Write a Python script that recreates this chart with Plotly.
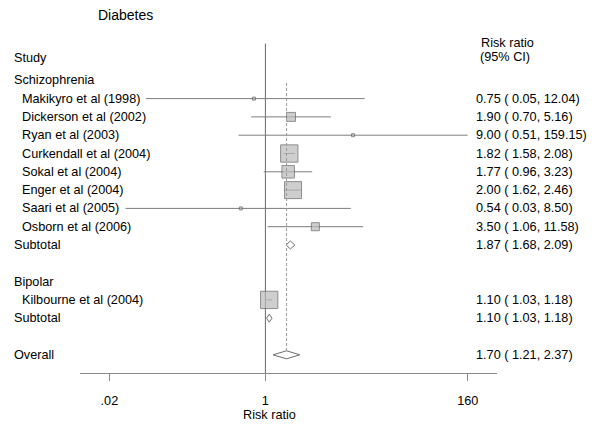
import plotly.graph_objects as go

# ---------------- data ----------------
title = "Diabetes"
studies = ["Makikyro et al (1998)", "Dickerson et al (2002)", "Ryan et al (2003)",
           "Curkendall et al (2004)", "Sokal et al (2004)", "Enger et al (2004)",
           "Saari et al (2005)", "Osborn et al (2006)", "Kilbourne et al (2004)"]
groups = ["Schizophrenia"] * 8 + ["Bipolar"]
rr = [0.75, 1.90, 9.00, 1.82, 1.77, 2.00, 0.54, 3.50, 1.10]
lo = [0.05, 0.70, 0.51, 1.58, 0.96, 1.62, 0.03, 1.06, 1.03]
hi = [12.04, 5.16, 159.15, 2.08, 3.23, 2.46, 8.50, 11.58, 1.18]
weights = [1.1, 7.0, 1.1, 23.5, 12.8, 22.7, 1.1, 5.7, 23.5]   # estimated % weight (box area)

group_names = ["Schizophrenia", "Bipolar"]
sub_rr = [1.87, 1.10]
sub_lo = [1.68, 1.03]
sub_hi = [2.09, 1.18]

overall_rr, overall_lo, overall_hi = 1.70, 1.21, 2.37

tick_vals = [0.02, 1, 160]
tick_text = [".02", "1", "160"]
x_label = "Risk ratio"

# ---------------- layout helpers ----------------
FONT = "Liberation Sans, Arial, Helvetica, sans-serif"
W, H = 600, 428
ML, MR, MT, MB = 80, 103, 30, 55
ROW0_PX, ROW_H = 62.0, 18.3
plot_w = W - ML - MR


def px_to_paper(px):
    return (px - ML) / plot_w


# assign rows
rows_study = []
row_labels = []  # (row, text, indent)
sub_rows = []
r = 1
for g in group_names:
    row_labels.append((r, g, False))
    r += 1
    for i, s in enumerate(studies):
        if groups[i] == g:
            rows_study.append((i, r))
            row_labels.append((r, s, True))
            r += 1
    row_labels.append((r, "Subtotal", False))
    sub_rows.append(r)
    r += 2
overall_row = r
row_labels.append((overall_row, "Overall", False))
study_row = {i: rw for i, rw in rows_study}

y_top = (MT - ROW0_PX) / ROW_H
y_bot = (H - MB - ROW0_PX) / ROW_H

fig = go.Figure()

# CI lines
xs, ys = [], []
for i in range(len(studies)):
    xs += [lo[i], hi[i], None]
    ys += [study_row[i], study_row[i], None]
fig.add_trace(go.Scatter(x=xs, y=ys, mode="lines",
                         line=dict(color="#7d7d7d", width=1),
                         hoverinfo="skip", showlegend=False))

# boxes
max_side = 18.3
sizes = [max_side * (w / max(weights)) ** 0.5 - 1 for w in weights]
fig.add_trace(go.Scatter(x=rr, y=[study_row[i] for i in range(len(studies))],
                         mode="markers",
                         marker=dict(symbol="square", size=sizes, color="#bababa",
                                     line=dict(color="#5e5e5e", width=1)),
                         hoverinfo="skip", showlegend=False))

# diamonds
half_h = 4.0 / ROW_H


def diamond(est, l, h, row):
    fig.add_trace(go.Scatter(x=[l, est, h, est, l], y=[row, row - half_h, row, row + half_h, row],
                             mode="lines", fill="toself", fillcolor="white",
                             line=dict(color="#6e6e6e", width=1),
                             hoverinfo="skip", showlegend=False))


for k in range(len(group_names)):
    diamond(sub_rr[k], sub_lo[k], sub_hi[k], sub_rows[k])
diamond(overall_rr, overall_lo, overall_hi, overall_row)

shapes = [
    dict(type="line", xref="x", yref="y", x0=1, x1=1, y0=(43.5 - ROW0_PX) / ROW_H, y1=y_bot,
         line=dict(color="#6a6a6a", width=1), layer="below"),
    dict(type="line", xref="x", yref="y", x0=overall_rr, x1=overall_rr,
         y0=(83 - ROW0_PX) / ROW_H, y1=overall_row - half_h,
         line=dict(color="#9a9a9a", width=1, dash="3px,2px"), layer="above"),
]

ann = []
fs = 12.7


def text(px, row, t, size=fs, yshift=0, xanchor="left"):
    ann.append(dict(x=px_to_paper(px), xref="paper", y=row, yref="y", text=t,
                    showarrow=False, xanchor=xanchor, yanchor="middle", yshift=yshift,
                    font=dict(family=FONT, size=size, color="#000")))


# title
ann.append(dict(x=px_to_paper(96), xref="paper", y=1 - (15 - MT) / (H - MT - MB),
                yref="paper", text=title, showarrow=False, xanchor="left", yanchor="middle",
                font=dict(family=FONT, size=14, color="#000")))
text(11.5, 0, "Study", yshift=4)
for rw, t, ind in row_labels:
    text(19.5 if ind else 11.5, rw, t)

# right column
text(478.5, (43 - ROW0_PX) / ROW_H, "Risk ratio")
text(478, (57 - ROW0_PX) / ROW_H, "(95% CI)")
for i in range(len(studies)):
    text(474, study_row[i], f"{rr[i]:.2f} ({lo[i]:5.2f}, {hi[i]:.2f})")
for k in range(len(group_names)):
    text(474, sub_rows[k], f"{sub_rr[k]:.2f} ({sub_lo[k]:5.2f}, {sub_hi[k]:.2f})")
text(474, overall_row, f"{overall_rr:.2f} ({overall_lo:5.2f}, {overall_hi:.2f})")

# x-axis title
ann.append(dict(x=px_to_paper(269), xref="paper", y=-(415 - (H - MB)) / (H - MT - MB),
                yref="paper", text=x_label, showarrow=False, xanchor="center", yanchor="middle",
                font=dict(family=FONT, size=fs, color="#000")))

fig.update_layout(
    width=W, height=H,
    margin=dict(l=ML, r=MR, t=MT, b=MB, pad=0),
    paper_bgcolor="white", plot_bgcolor="white",
    shapes=shapes, annotations=ann, showlegend=False,
    xaxis=dict(type="log", range=[-2.019, 2.522], showgrid=False, zeroline=False,
               showline=True, linecolor="#8a8a8a", linewidth=1,
               ticks="outside", ticklen=7, tickcolor="#8a8a8a", tickwidth=1,
               tickvals=tick_vals, ticktext=tick_text, ticklabelstandoff=9,
               tickfont=dict(family=FONT, size=fs, color="#000"), fixedrange=True),
    yaxis=dict(range=[y_bot, y_top], visible=False, fixedrange=True),
)

fig.write_html("out.html", config={"displayModeBar": False},
               post_script="document.body.style.margin='0';document.body.style.overflow='hidden';")
